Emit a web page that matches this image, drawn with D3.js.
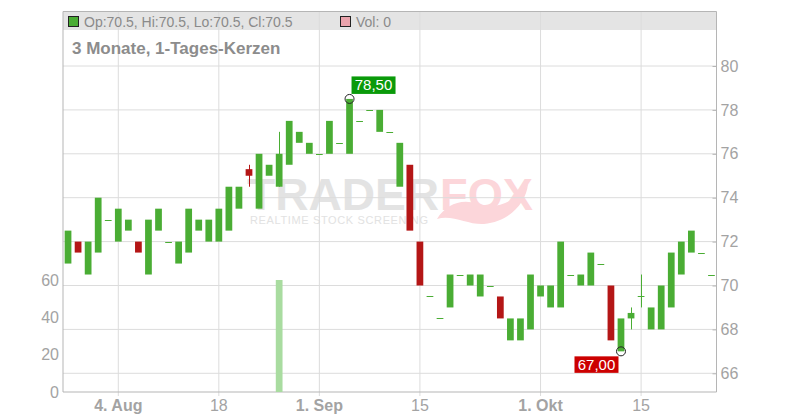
<!DOCTYPE html>
<html>
<head>
<meta charset="utf-8">
<script src="https://cdn.jsdelivr.net/npm/d3@7"></script>
<style>
  body { margin: 0; background: #fff; }
  svg text { font-family: "Liberation Sans", Arial, sans-serif; }
</style>
</head>
<body>
<div id="chart"></div>
<script>
// daily candles, 3 months
const dates = [
  "2025-07-28","2025-07-29","2025-07-30","2025-07-31","2025-08-01",
  "2025-08-04","2025-08-05","2025-08-06","2025-08-07","2025-08-08",
  "2025-08-11","2025-08-12","2025-08-13","2025-08-14","2025-08-15",
  "2025-08-18","2025-08-19","2025-08-20","2025-08-21","2025-08-22",
  "2025-08-25","2025-08-26","2025-08-27","2025-08-28","2025-08-29",
  "2025-09-01","2025-09-02","2025-09-03","2025-09-04","2025-09-05",
  "2025-09-08","2025-09-09","2025-09-10","2025-09-11","2025-09-12",
  "2025-09-15","2025-09-16","2025-09-17","2025-09-18","2025-09-19",
  "2025-09-22","2025-09-23","2025-09-24","2025-09-25","2025-09-26",
  "2025-09-29","2025-09-30","2025-10-01","2025-10-02","2025-10-03",
  "2025-10-06","2025-10-07","2025-10-08","2025-10-09","2025-10-10",
  "2025-10-13","2025-10-14","2025-10-15","2025-10-16","2025-10-17",
  "2025-10-20","2025-10-21","2025-10-22","2025-10-23","2025-10-24"
];
const open = [
  71,72,70.5,71.5,73, 72,72.5,72,70.5,72.5, 72,71,71.5,72.5,72,
  72,72.5,73.5,75.3,73.5, 75,74.5,75.5,76.5,76, 76,76,76.5,76,77.5,
  78,77,77,74.5,75.5, 72,69.5,68.5,69,70.5, 70,69.5,70,69.5,67.5,
  67.5,68,69.5,69,69, 70.5,70,70,71,70, 67,68.5,69.5,68,68,
  69,70.5,71.5,71.5,70.5
];
const high = [
  72.5,72,72,74,73, 73.5,73,72,73,73.5, 72,72,73.5,73,73,
  73.5,74.5,74.5,75.5,76, 75.5,77,77.5,77,76.5, 76,77.5,76.5,78.5,77.5,
  78,78,77,76.5,75.5, 72,69.5,68.5,70.5,70.5, 70.5,70.5,70,69.5,68.5,
  68.5,70.5,70,70,72, 70.5,70.5,71.5,71,70, 68.5,69,70.5,69,70,
  71.5,72,72.5,71.5,70.5
];
const low = [
  71,71.5,70.5,71.5,73, 72,72.5,71.5,70.5,72.5, 72,71,71.5,72.5,72,
  72,72.5,73.5,74.5,73.5, 75,74.5,75.5,76.5,76, 76,76,76.5,76,77.5,
  78,77,77,74.5,72.5, 70,69.5,68.5,69,70.5, 70,69.5,70,68.5,67.5,
  67.5,68,69.5,69,69, 70.5,70,70,71,67.5, 67,68,69,68,68,
  69,70.5,71.5,71.5,70.5
];
const close = [
  72.5,71.5,72,74,73, 73.5,73,71.5,73,73.5, 72,72,73.5,73,73,
  73.5,74.5,74.5,75,76, 75.5,76,77.5,77,76.5, 76,77.5,76.5,78.5,77.5,
  78,78,77,76.5,72.5, 70,69.5,68.5,70.5,70.5, 70.5,70.5,70,68.5,68.5,
  68.5,70.5,70,70,72, 70.5,70.5,71.5,71,67.5, 68.5,68.75,69.5,69,70,
  71.5,72,72.5,71.5,70.5
];
const volume = [
  0,0,0,0,0, 0,0,0,0,0, 0,0,0,0,0,
  0,0,0,0,0, 0,60,0,0,0, 0,0,0,0,0,
  0,0,0,0,0, 0,0,0,0,0, 0,0,0,0,0,
  0,0,0,0,0, 0,0,0,0,0, 0,0,0,0,0,
  0,0,0,0,0
];
const xTickDates = ["2025-08-04","2025-08-18","2025-09-01","2025-09-15","2025-10-01","2025-10-15"];
const xTickLabels = ["4. Aug","18","1. Sep","15","1. Okt","15"];
const priceTicks = [66, 68, 70, 72, 74, 76, 78, 80];
const volTicks = [0, 20, 40, 60];

const width = 800, height = 420;
const plotLeft = 63, plotRight = 716.5, plotTop = 11.5, plotBottom = 392;
const green = "#4aad34", red = "#b41616";
const gridColor = "#dcdcdc", frameColor = "#b5b5b5", textColor = "#a3a3a3";

const candles = dates.map((d, i) => ({
  date: d, o: open[i], h: high[i], l: low[i], c: close[i], v: volume[i]
}));

const svg = d3.select("#chart").append("svg")
  .attr("width", width)
  .attr("height", height);

const x = d3.scaleBand().domain(dates).range([plotLeft, plotRight]);
const cx = d => x(d) + x.bandwidth() / 2;
const y = d3.scaleLinear().domain([66, 80]).range([373.3, 66]);
const yVol = d3.scaleLinear().domain([0, 60]).range([plotBottom, 280]);

// header band
svg.append("rect")
  .attr("x", plotLeft).attr("y", plotTop)
  .attr("width", plotRight - plotLeft).attr("height", 18.5)
  .attr("fill", "#e4e4e4");

// watermark
const wm = svg.append("g");
wm.append("text")
  .attr("x", 247).attr("y", 209.5)
  .attr("font-size", 45).attr("font-weight", "bold")
  .attr("fill", "#e3e3e3")
  .attr("textLength", 192)
  .attr("lengthAdjust", "spacingAndGlyphs")
  .text("TRADER");
wm.append("text")
  .attr("x", 440).attr("y", 209.5)
  .attr("font-size", 45).attr("font-weight", "bold")
  .attr("fill", "#fcd6da")
  .attr("textLength", 93)
  .attr("lengthAdjust", "spacingAndGlyphs")
  .text("FOX");
wm.append("path")
  .attr("d", "M437,219 C446,204 462,198 478,204 C494,210 514,204 528,184 C526,204 508,222 484,224 C468,225 452,214 437,219 Z")
  .attr("fill", "#fcd6da");
wm.append("text")
  .attr("x", 250).attr("y", 223.5)
  .attr("font-size", 11)
  .attr("fill", "#e2e2e2")
  .attr("textLength", 178)
  .attr("lengthAdjust", "spacing")
  .text("REALTIME STOCK SCREENING");

// grid
svg.append("g").selectAll("line")
  .data(priceTicks)
  .enter().append("line")
  .attr("x1", plotLeft).attr("x2", plotRight)
  .attr("y1", d => y(d)).attr("y2", d => y(d))
  .attr("stroke", gridColor);

svg.append("g").selectAll("line")
  .data(xTickDates)
  .enter().append("line")
  .attr("x1", d => cx(d)).attr("x2", d => cx(d))
  .attr("y1", plotTop).attr("y2", plotBottom + 4)
  .attr("stroke", gridColor);

// frame
svg.append("path")
  .attr("d", `M${plotLeft},${plotBottom}V${plotTop}H${plotRight}V${plotBottom}H${plotLeft}`)
  .attr("fill", "none")
  .attr("stroke", frameColor);

// legend header
svg.append("rect")
  .attr("x", 68.5).attr("y", 16.5).attr("width", 10).attr("height", 10)
  .attr("fill", green).attr("stroke", "#222");
svg.append("text")
  .attr("x", 84).attr("y", 26.5)
  .attr("font-size", 14).attr("fill", "#8a8a8a")
  .text(`Op:${open[open.length - 1]}, Hi:${high[high.length - 1]}, Lo:${low[low.length - 1]}, Cl:${close[close.length - 1]}`);
svg.append("rect")
  .attr("x", 340.5).attr("y", 16.5).attr("width", 10).attr("height", 10)
  .attr("fill", "#eaa3ac").attr("stroke", "#222");
svg.append("text")
  .attr("x", 356).attr("y", 26.5)
  .attr("font-size", 14).attr("fill", "#8a8a8a")
  .text("Vol: " + volume[volume.length - 1]);

svg.append("text")
  .attr("x", 72).attr("y", 54)
  .attr("font-size", 17).attr("font-weight", "bold")
  .attr("fill", "#8c8c8c")
  .text("3 Monate, 1-Tages-Kerzen");

// volume bars
const bw = x.bandwidth() * 0.67;
svg.append("g").selectAll("rect")
  .data(candles.filter(d => d.v > 0))
  .enter().append("rect")
  .attr("x", d => cx(d.date) - bw / 2)
  .attr("y", d => yVol(d.v))
  .attr("width", bw)
  .attr("height", d => yVol(0) - yVol(d.v))
  .attr("fill", "#a9dca0");

// candles
const cg = svg.append("g").selectAll("g")
  .data(candles)
  .enter().append("g")
  .attr("fill", d => d.c >= d.o ? green : red)
  .attr("stroke", d => d.c >= d.o ? green : red);

cg.filter(d => d.h > Math.max(d.o, d.c) || d.l < Math.min(d.o, d.c))
  .append("line")
  .attr("x1", d => Math.round(cx(d.date)) + 0.5)
  .attr("x2", d => Math.round(cx(d.date)) + 0.5)
  .attr("y1", d => y(d.h)).attr("y2", d => y(d.l));

cg.filter(d => d.o !== d.c)
  .append("rect")
  .attr("stroke", "none")
  .attr("x", d => cx(d.date) - bw / 2)
  .attr("y", d => y(Math.max(d.o, d.c)))
  .attr("width", bw)
  .attr("height", d => Math.max(1, Math.abs(y(d.o) - y(d.c))));

cg.filter(d => d.o === d.c)
  .append("line")
  .attr("x1", d => cx(d.date) - bw / 2)
  .attr("x2", d => cx(d.date) + bw / 2)
  .attr("y1", d => Math.round(y(d.c)) + 0.5)
  .attr("y2", d => Math.round(y(d.c)) + 0.5);

// right price axis
const yAxis = svg.append("g")
  .attr("transform", `translate(${plotRight},0)`)
  .call(d3.axisRight(y).tickValues(priceTicks).tickSize(-4).tickPadding(4));
yAxis.select(".domain").remove();
yAxis.selectAll("line").attr("stroke", frameColor);
yAxis.selectAll("text")
  .attr("font-size", 16).attr("fill", textColor)
  .style("font-family", "'Liberation Sans', Arial, sans-serif");

// left volume axis
const vAxis = svg.append("g")
  .attr("transform", `translate(${plotLeft},0)`)
  .call(d3.axisLeft(yVol).tickValues(volTicks).tickSize(0).tickPadding(4));
vAxis.select(".domain").remove();
vAxis.selectAll("text")
  .attr("font-size", 16).attr("fill", textColor)
  .style("font-family", "'Liberation Sans', Arial, sans-serif");

// bottom date axis
const xAxis = svg.append("g")
  .attr("transform", `translate(0,${plotBottom})`)
  .call(d3.axisBottom(x).tickValues(xTickDates).tickSize(0).tickPadding(8)
    .tickFormat((d, i) => xTickLabels[i]));
xAxis.select(".domain").remove();
xAxis.selectAll("text")
  .attr("font-size", 16).attr("fill", textColor)
  .attr("font-weight", (d, i) => xTickLabels[i].includes(".") ? "bold" : "normal")
  .style("font-family", "'Liberation Sans', Arial, sans-serif");

// high / low markers
const hiIdx = d3.maxIndex(high), loIdx = d3.minIndex(low);
const fmt = v => v.toFixed(2).replace(".", ",");

svg.append("circle")
  .attr("cx", cx(dates[hiIdx])).attr("cy", y(high[hiIdx])).attr("r", 4.5)
  .attr("fill", "none").attr("stroke", "#222");
svg.append("rect")
  .attr("x", cx(dates[hiIdx]) + 2).attr("y", y(high[hiIdx]) - 22.5)
  .attr("width", 44).attr("height", 17.5)
  .attr("fill", "#0a9a0a");
svg.append("text")
  .attr("x", cx(dates[hiIdx]) + 24).attr("y", y(high[hiIdx]) - 8.5)
  .attr("text-anchor", "middle")
  .attr("font-size", 15).attr("fill", "#fff")
  .text(fmt(high[hiIdx]));

svg.append("circle")
  .attr("cx", cx(dates[loIdx])).attr("cy", y(low[loIdx])).attr("r", 4.5)
  .attr("fill", "none").attr("stroke", "#222");
svg.append("rect")
  .attr("x", cx(dates[loIdx]) - 46.5).attr("y", y(low[loIdx]) + 5)
  .attr("width", 44).attr("height", 16.5)
  .attr("fill", "#cc0000");
svg.append("text")
  .attr("x", cx(dates[loIdx]) - 24.5).attr("y", y(low[loIdx]) + 18.5)
  .attr("text-anchor", "middle")
  .attr("font-size", 15).attr("fill", "#fff")
  .text(fmt(low[loIdx]));
</script>
</body>
</html>
